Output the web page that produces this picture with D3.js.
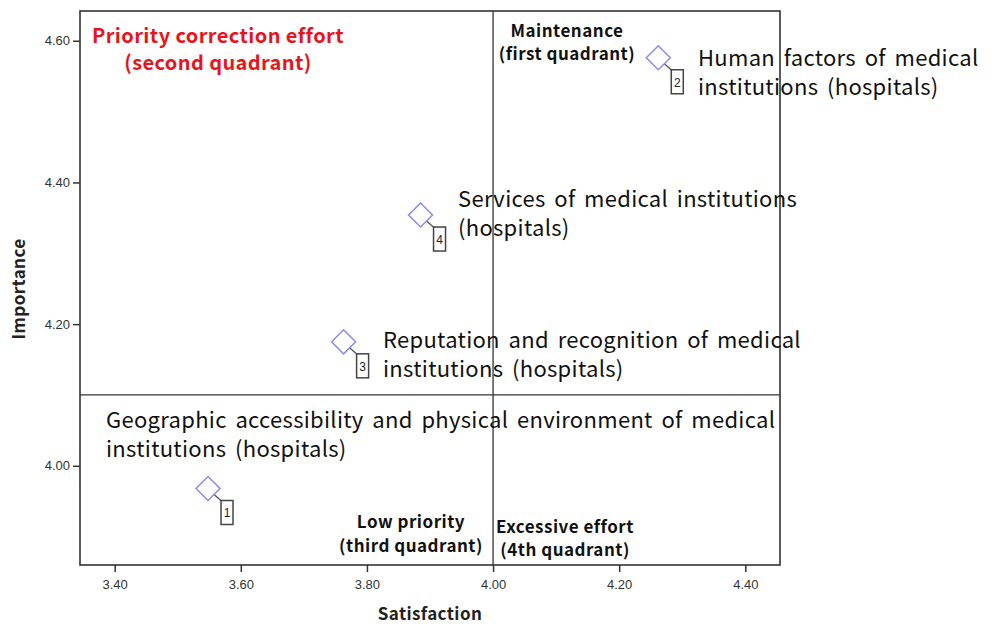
<!DOCTYPE html>
<html><head><meta charset="utf-8">
<script src="https://cdn.jsdelivr.net/npm/d3@7"></script>
<style>body{margin:0;background:#fff;} svg{display:block;}</style>
</head><body>
<svg id="chart" width="999" height="624"></svg>
<script>
// Data
const ids = [1, 2, 3, 4];
const satisfaction = [3.548, 4.262, 3.763, 3.885];
const importance = [3.968, 4.576, 4.175, 4.354];
const pointLabels = [
  ["Geographic accessibility and physical environment of medical", "institutions (hospitals)"],
  ["Human factors of medical", "institutions (hospitals)"],
  ["Reputation and recognition of medical", "institutions (hospitals)"],
  ["Services of medical institutions", "(hospitals)"]
];
const xTicks = [3.4, 3.6, 3.8, 4.0, 4.2, 4.4];
const yTicks = [4.0, 4.2, 4.4, 4.6];
const xRef = 4.0, yRef = 4.1;
const xDomain = [3.345, 4.455];
const yDomain = [3.86, 4.642];

const svg = d3.select("#chart");
const L = 80, R = 780, T = 11, B = 565;
const x = d3.scaleLinear().domain(xDomain).range([L, R]);
const y = d3.scaleLinear().domain(yDomain).range([B, T]);
const kfont = "'Noto Sans CJK KR','Noto Sans',sans-serif";

// axes
const xAxis = svg.append("g").attr("transform", `translate(0,${B})`)
  .call(d3.axisBottom(x).tickValues(xTicks).tickFormat(d3.format(".2f")).tickSize(7).tickSizeOuter(0));
const yAxis = svg.append("g").attr("transform", `translate(${L},0)`)
  .call(d3.axisLeft(y).tickValues(yTicks).tickFormat(d3.format(".2f")).tickSize(7).tickSizeOuter(0));
[xAxis, yAxis].forEach(a => {
  a.select(".domain").remove();
  a.selectAll("line").attr("stroke", "#333").attr("stroke-width", 1.5);
  a.selectAll("text").attr("fill", "#333").style("font-family", "'Liberation Sans',Arial,sans-serif").style("font-size", "13px");
});
xAxis.selectAll("text").attr("dy", "1.1em");

// frame
svg.append("rect").attr("x", L).attr("y", T).attr("width", R - L).attr("height", B - T)
  .attr("fill", "none").attr("stroke", "#333").attr("stroke-width", 1.6);

// reference lines
svg.append("line").attr("x1", x(xRef)).attr("x2", x(xRef)).attr("y1", T).attr("y2", B)
  .attr("stroke", "#333").attr("stroke-width", 1.3);
svg.append("line").attr("x1", L).attr("x2", R).attr("y1", y(yRef)).attr("y2", y(yRef))
  .attr("stroke", "#333").attr("stroke-width", 1.3);

// axis titles
svg.append("text").attr("x", 430).attr("y", 620).attr("text-anchor", "middle")
  .style("font-family", kfont).style("font-weight", "bold").style("font-size", "17px")
  .style("letter-spacing", "0.4px").attr("fill", "#222")
  .text("Satisfaction");
svg.append("text").attr("transform", "translate(25,289) rotate(-90)").attr("text-anchor", "middle")
  .style("font-family", kfont).style("font-weight", "bold").style("font-size", "17px")
  .style("letter-spacing", "0.4px").attr("fill", "#222")
  .text("Importance");

// points
const pts = ids.map((id, i) => ({id, sx: satisfaction[i], im: importance[i], lab: pointLabels[i]}));
const g = svg.append("g");
pts.forEach(p => {
  const cx = x(p.sx), cy = y(p.im);
  g.append("line").attr("x1", cx + 6).attr("y1", cy + 6).attr("x2", cx + 14).attr("y2", cy + 13)
    .attr("stroke", "#555").attr("stroke-width", 1.3);
  g.append("path").attr("d", `M${cx},${cy - 12} L${cx + 12},${cy} L${cx},${cy + 12} L${cx - 12},${cy} Z`)
    .attr("fill", "none").attr("stroke", "#8a8af0").attr("stroke-width", 1.5);
  g.append("rect").attr("x", cx + 13).attr("y", cy + 12).attr("width", 12).attr("height", 24)
    .attr("fill", "#fff").attr("stroke", "#444").attr("stroke-width", 1.5);
  g.append("text").attr("x", cx + 19).attr("y", cy + 29).attr("text-anchor", "middle")
    .style("font-family", "'Liberation Sans',Arial,sans-serif").style("font-size", "12px").attr("fill", "#222")
    .text(p.id);
});

// point descriptions
const labPos = {1: [106, 428], 2: [698, 66], 3: [383, 348], 4: [458, 207]};
pts.forEach(p => {
  const [lx, ly] = labPos[p.id];
  const t = svg.append("text").attr("x", lx).attr("y", ly)
    .style("font-family", kfont).style("font-size", "22px").attr("fill", "#111")
    .style("letter-spacing", "0.3px").style("word-spacing", "3.5px");
  p.lab.forEach((line, k) => t.append("tspan").attr("x", lx).attr("dy", k === 0 ? 0 : 29).text(line));
});

// quadrant labels
function quad(lines, xPos, yPos, anchor, size, color, ls, gap) {
  const t = svg.append("text").attr("x", xPos).attr("y", yPos).attr("text-anchor", anchor)
    .style("font-family", kfont).style("font-weight", "bold").style("font-size", size + "px")
    .style("letter-spacing", ls + "px").attr("fill", color);
  lines.forEach((line, k) => t.append("tspan").attr("x", xPos).attr("dy", k === 0 ? 0 : gap).text(line));
}
quad(["Priority correction effort", "(second quadrant)"], 218, 43, "middle", 20, "#e8141c", 0.4, 27);
quad(["Maintenance", "(first quadrant)"], 567, 37, "middle", 17, "#111", 0.5, 23);
quad(["Low priority", "(third quadrant)"], 411, 528, "middle", 17, "#111", 0.5, 24);
quad(["Excessive effort", " (4th quadrant)"], 496, 533, "start", 17, "#111", 0.5, 23);
</script>
</body></html>
